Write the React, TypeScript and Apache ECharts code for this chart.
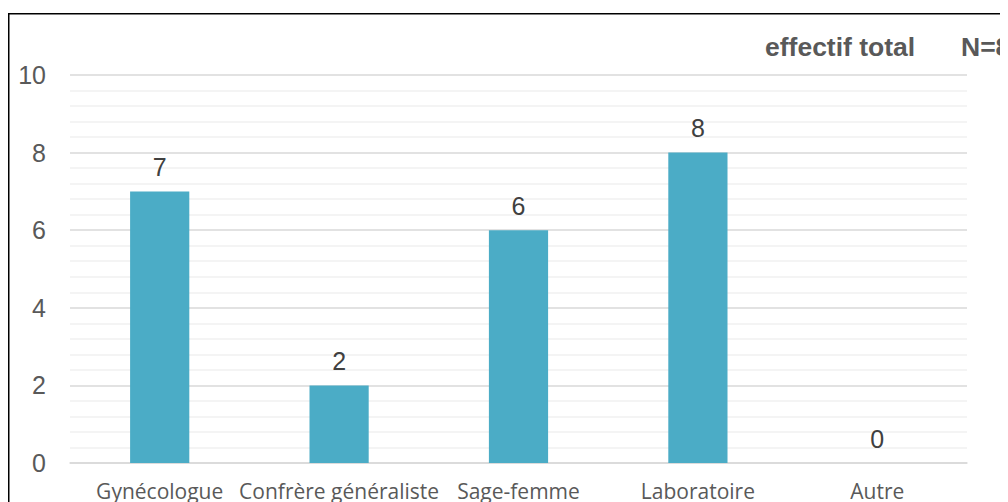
import React, { useEffect, useRef } from "react";
import * as echarts from "echarts";

const categories = ["Gynécologue", "Confrère généraliste", "Sage-femme", "Laboratoire", "Autre"];
const values = [7, 2, 6, 8, 0];
const yTicks = { min: 0, max: 10, interval: 2 };
const titleLeft = "effectif total";
const titleRight = "N=8";

export default function App() {
  const ref = useRef<HTMLDivElement>(null);
  useEffect(() => {
    document.body.style.overflow = "hidden";
    const chart = echarts.init(ref.current!, null, { renderer: "svg" });
    chart.setOption({
      animation: false,
      backgroundColor: "#ffffff",
      grid: { left: 62, top: 67, width: 897, height: 388 },
      xAxis: {
        type: "category",
        data: categories,
        axisLine: { show: true, lineStyle: { color: "#d9d9d9", width: 1.5 } },
        axisTick: { show: false },
        axisLabel: { color: "#595959", fontFamily: "Open Sans", fontSize: 21, margin: 17, interval: 0 },
      },
      yAxis: {
        type: "value",
        min: yTicks.min,
        max: yTicks.max,
        interval: yTicks.interval,
        axisLine: { show: false },
        axisTick: { show: false },
        axisLabel: { color: "#595959", fontFamily: "Liberation Sans", fontSize: 25, margin: 24 },
        splitLine: { lineStyle: { color: "#d9d9d9", width: 1.5 } },
        minorTick: { show: false, splitNumber: 5 },
        minorSplitLine: { show: true, lineStyle: { color: "#f0f0f0", width: 1.5 } },
      },
      series: [
        {
          type: "bar",
          data: values,
          barWidth: "33%",
          itemStyle: { color: "#4BACC6" },
          label: {
            show: true,
            position: "top",
            distance: 12,
            color: "#404040",
            fontFamily: "Liberation Sans",
            fontSize: 25,
          },
        },
      ],
      graphic: [
        {
          type: "rect",
          shape: { x: 0.75, y: 5.75, width: 1010, height: 500 },
          style: { fill: "none", stroke: "#000000", lineWidth: 1.5 },
          silent: true,
        },
        {
          type: "text",
          x: 757,
          y: 39,
          style: {
            text: titleLeft,
            fill: "#595959",
            font: "bold 26.5px 'Liberation Sans', Arial, sans-serif",
            textVerticalAlign: "middle",
          },
        },
        {
          type: "text",
          x: 953,
          y: 39,
          style: {
            text: titleRight,
            fill: "#595959",
            font: "bold 26.5px 'Liberation Sans', Arial, sans-serif",
            textVerticalAlign: "middle",
          },
        },
      ],
    });
    return () => chart.dispose();
  }, []);
  return <div ref={ref} style={{ width: 1000, height: 494 }} />;
}
